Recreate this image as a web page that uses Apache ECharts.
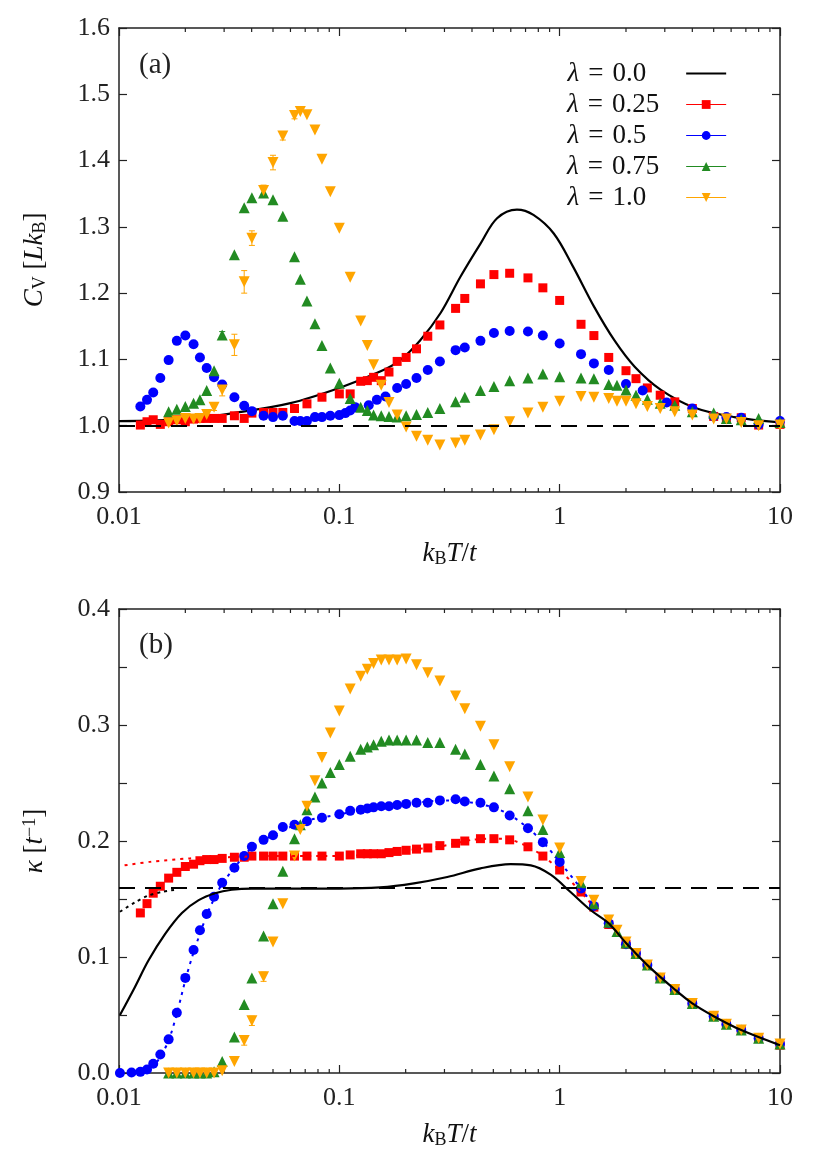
<!DOCTYPE html>
<html>
<head>
<meta charset="utf-8">
<script src="https://cdn.jsdelivr.net/npm/echarts@6/dist/echarts.min.js"></script>
<style>
  html, body { margin: 0; padding: 0; background: #fff; }
  #chart { width: 830px; height: 1163px; }
</style>
</head>
<body>
<div id="chart"></div>
<script>
// temperature grids (k_B T / t)
const tLow = [0.0125,0.0134,0.0143,0.0154,0.0168,0.0183,0.02,0.0218,0.0233,0.025,0.027,0.0294,0.0334,0.037,0.0401,0.0453,0.05,0.0554,0.0626,0.0713,0.0834,0.1,0.112,0.125,0.134,0.143,0.155,0.168,0.183,0.201,0.224,0.252,0.286,0.337];
const tHigh = [0.371,0.437,0.503,0.593,0.718,0.839,1.0,1.25,1.43,1.67,2.0,2.22,2.5,2.86,3.33,4.0,5.0,5.71,6.67,8.0,10.0];
const tMid = [0.0168,0.0183,0.02,0.0218,0.0233,0.025,0.027,0.0294,0.0334,0.037,0.0401,0.0453,0.05,0.0554,0.0626,0.0665,0.0713,0.0775,0.0834,0.091,0.1,0.112,0.125,0.134,0.143,0.155,0.168,0.183,0.201,0.224,0.252,0.286,0.337];
const tHigh2 = [0.371,0.437,0.503,0.593,0.718,0.839,1.0,1.25,1.43,1.67,1.82,2.0,2.22,2.5,2.86,3.33,4.0,5.0,5.71,6.67,8.0,10.0];
const tBlueTop = [0.0125,0.0134,0.0143,0.0154,0.0168,0.0183,0.02,0.0218,0.0233,0.025,0.027,0.0294,0.0334,0.037,0.0401,0.0453,0.05,0.0554,0.0626,0.0665,0.0713,0.0775,0.0834,0.091,0.1,0.1065,0.112,0.118,0.136,0.148,0.162,0.183,0.201,0.224,0.252,0.286,0.337,0.371,0.437,0.503,0.593,0.718,0.839,1.0,1.25,1.43,1.67,2.0,2.38,3.06,4.0,5.0,5.71,6.67,8.0,10.0];
const tBlueLowest = [0.0101,0.0114];

// (a) specific heat C_V
const cv0T = [0.01,0.02,0.033,0.06,0.1,0.154,0.189,0.233,0.288,0.355,0.438,0.52,0.64,0.76,0.94,1.15,1.43,1.77,2.19,2.88,4.1,6.2,10];
const cv0 = [1.007,1.010,1.019,1.034,1.057,1.082,1.099,1.129,1.170,1.225,1.275,1.313,1.326,1.318,1.290,1.240,1.180,1.129,1.089,1.054,1.027,1.013,1.005];
const cvRed = [1.001,1.006,1.009,1.002,1.006,1.009,1.006,1.010,1.011,1.011,1.011,1.011,1.015,1.011,1.019,1.020,1.020,1.020,1.026,1.033,1.043,1.048,1.048,1.067,1.068,1.073,1.068,1.081,1.097,1.103,1.116,1.135,1.152,1.177,
  1.192,1.214,1.228,1.230,1.223,1.208,1.189,1.153,1.136,1.103,1.083,1.071,1.057,1.046,1.036,1.026,1.014,1.011,1.012,1.001,1.002];
const cvBlue = [1.029,1.039,1.050,1.072,1.099,1.128,1.136,1.123,1.103,1.087,1.073,1.062,1.043,1.030,1.022,1.015,1.013,1.015,1.007,1.007,1.007,1.013,1.013,1.015,1.016,1.019,1.023,1.028,1.031,1.039,1.044,1.057,1.063,1.072,1.084,1.097,1.114,
  1.118,1.128,1.140,1.143,1.142,1.136,1.124,1.108,1.094,1.084,1.063,1.053,1.035,1.026,1.014,1.013,1.012,1.002,1.007];
const cvGreen = [1.021,1.025,1.029,1.034,1.039,1.053,1.083,1.137,1.258,1.329,1.344,1.351,1.341,1.316,1.255,1.221,1.188,1.154,1.121,1.087,1.064,1.041,1.028,1.023,1.016,1.015,1.014,1.013,1.015,1.017,1.020,1.026,1.036,
  1.043,1.053,1.059,1.068,1.072,1.078,1.074,1.072,1.071,1.062,1.061,1.054,1.046,1.040,1.034,1.031,1.021,1.019,1.011,1.009,1.011,1.005];
const cvOrange = [1.004,1.007,1.011,1.010,1.011,1.017,1.028,1.054,1.122,1.217,1.283,1.355,1.397,1.437,1.468,1.474,1.469,1.446,1.402,1.353,1.298,1.224,1.158,1.121,1.092,1.061,1.035,1.016,0.998,0.984,0.978,0.971,0.974,
  0.978,0.986,0.994,1.006,1.019,1.028,1.037,1.044,1.043,1.041,1.037,1.037,1.033,1.029,1.026,1.021,1.016,1.010,1.010,1.005,1.000,1.001];
const errOrangeTopT = [0.027,0.0294,0.0334,0.037,0.0401,0.0453,0.05,0.0554,0.0626];
const errOrangeTopD = [0.005,0.009,0.016,0.017,0.011,0.008,0.011,0.006,0.005];
const errGreenTopT = [0.0294];
const errGreenTopD = [0.005];

// (b) thermal conductivity kappa
const k0T = [0.0101,0.0118,0.0136,0.0162,0.0193,0.023,0.0273,0.0325,0.04,0.1,0.153,0.218,0.309,0.4375,0.599,0.74,0.91,1.12,1.38,1.67,2.0,2.5,3.33,4.0,5.0,6.67,10];
const k0 = [0.050,0.074,0.097,0.120,0.138,0.149,0.155,0.158,0.159,0.159,0.160,0.1635,0.169,0.1764,0.180,0.179,0.171,0.156,0.1405,0.129,0.112,0.093,0.072,0.060,0.049,0.037,0.024];
const k0DotT = [0.0101,0.0118,0.0136,0.0156,0.018];
const k0Dot = [0.139,0.147,0.153,0.156,0.158];
const kRed = [0.138,0.146,0.155,0.161,0.168,0.173,0.178,0.180,0.183,0.184,0.184,0.185,0.186,0.186,0.187,0.187,0.187,0.187,0.187,0.187,0.187,0.187,0.188,0.189,0.189,0.189,0.189,0.190,0.191,0.192,0.193,0.194,0.196,0.198,
  0.200,0.202,0.202,0.201,0.195,0.187,0.175,0.156,0.143,0.128,0.111,0.103,0.093,0.082,0.072,0.060,0.049,0.042,0.037,0.030,0.024];
const kBlue = [0.000,0.0005,
  0.001,0.003,0.008,0.016,0.029,0.052,0.082,0.106,0.123,0.137,0.152,0.164,0.177,0.187,0.195,0.201,0.205,0.212,0.214,0.217,0.220,0.223,0.226,0.227,0.228,0.229,0.230,0.230,0.231,0.232,0.233,0.233,0.235,0.236,
  0.234,0.233,0.229,0.222,0.211,0.199,0.182,0.159,0.144,0.129,0.111,0.103,0.093,0.082,0.072,0.060,0.049,0.042,0.037,0.030,0.025];
const kGreen = [0,0,0,0,0,0,0.001,0.010,0.031,0.059,0.082,0.118,0.146,0.174,0.202,0.214,0.227,0.238,0.250,0.259,0.266,0.273,0.279,0.281,0.283,0.286,0.287,0.287,0.287,0.287,0.285,0.285,0.279,
  0.275,0.266,0.256,0.245,0.226,0.210,0.190,0.164,0.146,0.130,0.122,0.112,0.103,0.093,0.082,0.072,0.060,0.049,0.042,0.037,0.030,0.025];
const kOrange = [0,0,0,0,0,0,0,0.002,0.010,0.028,0.045,0.083,0.113,0.146,0.187,0.210,0.230,0.252,0.272,0.293,0.312,0.331,0.342,0.348,0.353,0.356,0.356,0.356,0.357,0.352,0.345,0.338,0.325,
  0.314,0.299,0.283,0.264,0.238,0.218,0.194,0.165,0.149,0.132,0.123,0.113,0.103,0.093,0.082,0.072,0.060,0.049,0.042,0.037,0.030,0.025];
const errOrangeBotT = [0.037,0.0401,0.0453];
const errOrangeBotD = [0.004,0.004,0.004];
const fitRedT = [0.0106,0.0138,0.021,0.03,0.05,0.1,0.2,0.3,0.4,0.5,0.6,0.72,0.84,1.0,1.25,1.43];
const fitRed = [0.179,0.182,0.185,0.186,0.187,0.187,0.192,0.196,0.201,0.202,0.201,0.195,0.187,0.175,0.156,0.143];
const fitBlueT = [0.0101,0.0125,0.0143,0.0154,0.0168,0.0183,0.02,0.0218,0.025,0.027,0.0294,0.0334,0.04,0.05,0.07,0.1,0.15,0.2,0.3,0.37,0.5,0.6,0.72,0.84,1.0,1.25,1.43];
const fitBlue = [0,0.001,0.006,0.014,0.028,0.051,0.08,0.104,0.136,0.15,0.163,0.177,0.194,0.205,0.217,0.223,0.229,0.232,0.235,0.234,0.229,0.222,0.211,0.199,0.182,0.159,0.144];

const cvRef = 1.0;     // dashed line in (a)
const kappaRef = 0.159; // dashed line in (b)
const minorT = [0.02,0.03,0.04,0.05,0.06,0.07,0.08,0.09,0.2,0.3,0.4,0.5,0.6,0.7,0.8,0.9,2,3,4,5,6,7,8,9];

const names = ['λ = 0.0', 'λ = 0.25', 'λ = 0.5', 'λ = 0.75', 'λ = 1.0'];
const colors = ['#000000', '#ff0000', '#0000ff', '#228b22', '#ffa500'];
const FONT = "'Liberation Serif', 'DejaVu Serif', serif";

const pts = (xs, ys) => xs.map((x, i) => [x, ys[i]]);
const errPts = (ts, ds, xs, ys) => ts.map((t, i) => {
  const y = ys[xs.indexOf(t)];
  return [t, y - ds[i], y + ds[i]];
});

const chart = echarts.init(document.getElementById('chart'));

const frame = {color: '#222', width: 1.5};
const tick = {show: true, inside: true, length: 8, lineStyle: {color: '#222', width: 1.2}};
const rich = {
  i: {fontFamily: FONT, fontSize: 27, fontStyle: 'italic', color: '#111'},
  r: {fontFamily: FONT, fontSize: 27, color: '#111'},
  s: {fontFamily: FONT, fontSize: 18, color: '#111', verticalAlign: 'bottom', padding: [10, 0, 0, 0]},
  p: {fontFamily: FONT, fontSize: 18, color: '#111', verticalAlign: 'top', padding: [0, 0, 10, 0]}
};
const xName = '{i|k}{s|B}{i|T}{r|/}{i|t}';

function xAxesFor(g) {
  return [{
    type: 'log', logBase: 10, gridIndex: g, min: 0.01, max: 10, position: 'bottom',
    axisLine: {show: true, onZero: false, lineStyle: frame},
    axisTick: tick,
    axisLabel: {fontFamily: FONT, fontSize: 26, color: '#222', margin: 12},
    splitLine: {show: false},
    name: xName, nameLocation: 'middle', nameGap: 48,
    nameTextStyle: {rich: rich}
  }, {
    type: 'log', logBase: 10, gridIndex: g, min: 0.01, max: 10, position: 'top',
    axisLine: {show: true, onZero: false, lineStyle: frame},
    axisTick: tick, axisLabel: {show: false}, splitLine: {show: false}
  }];
}

function yAxesFor(g, min, max, name, fmt, minor) {
  const left = {
    type: 'value', gridIndex: g, min: min, max: max, interval: 0.1, position: 'left',
    axisLine: {show: true, onZero: false, lineStyle: frame},
    axisTick: tick,
    axisLabel: {fontFamily: FONT, fontSize: 26, color: '#222', margin: 9, formatter: fmt},
    splitLine: {show: false},
    name: name, nameLocation: 'middle', nameGap: 70, nameRotate: 90,
    nameTextStyle: {rich: rich}
  };
  const right = {
    type: 'value', gridIndex: g, min: min, max: max, interval: 0.1, position: 'right',
    axisLine: {show: true, onZero: false, lineStyle: frame},
    axisTick: tick, axisLabel: {show: false}, splitLine: {show: false}
  };
  if (minor) {
    left.minorTick = right.minorTick = {show: true, splitNumber: 2, length: 8, lineStyle: {color: '#222', width: 1.2}};
  }
  return [left, right];
}

function renderMinor(params, api) {
  const cs = params.coordSys;
  const px = api.coord([api.value(0), api.value(1)])[0];
  const st = {stroke: '#222', lineWidth: 1.2};
  return {type: 'group', children: [
    {type: 'line', shape: {x1: px, y1: cs.y + cs.height, x2: px, y2: cs.y + cs.height - 4}, style: st},
    {type: 'line', shape: {x1: px, y1: cs.y, x2: px, y2: cs.y + 4}, style: st}
  ]};
}

function renderErr(params, api) {
  const lo = api.coord([api.value(0), api.value(1)]);
  const hi = api.coord([api.value(0), api.value(2)]);
  const st = {stroke: api.visual('color'), lineWidth: 1};
  return {type: 'group', children: [
    {type: 'line', shape: {x1: lo[0], y1: lo[1], x2: hi[0], y2: hi[1]}, style: st},
    {type: 'line', shape: {x1: lo[0] - 3, y1: lo[1], x2: lo[0] + 3, y2: lo[1]}, style: st},
    {type: 'line', shape: {x1: hi[0] - 3, y1: hi[1], x2: hi[0] + 3, y2: hi[1]}, style: st}
  ]};
}

const symbols = [null, ['rect', 9, 0], ['circle', 10, 0], ['triangle', 11, 0], ['triangle', 11, 180]];

function markerSeries(idx, g, data, asLine, name) {
  return {
    name: name, type: asLine ? 'line' : 'scatter',
    xAxisIndex: 2 * g, yAxisIndex: 2 * g,
    data: data, symbol: symbols[idx][0], symbolSize: symbols[idx][1], symbolRotate: symbols[idx][2],
    showSymbol: true, showAllSymbol: true,
    itemStyle: {color: colors[idx], opacity: 1},
    lineStyle: {opacity: 0},
    clip: false, silent: true
  };
}

function dashed(y) {
  return {silent: true, symbol: 'none', label: {show: false},
    lineStyle: {color: '#000', width: 2, type: [16, 10]}, data: [{yAxis: y}]};
}

const legendText = {fontFamily: FONT, fontSize: 27, color: '#111', lineHeight: 24};

const option = {
  animation: false,
  backgroundColor: '#fff',
  title: [
    {text: '(a)', left: 134, top: 46, textStyle: {fontFamily: FONT, fontSize: 29, fontWeight: 'normal', color: '#222'}},
    {text: '(b)', left: 134, top: 626, textStyle: {fontFamily: FONT, fontSize: 29, fontWeight: 'normal', color: '#222'}}
  ],
  grid: [
    {left: 119, top: 28, width: 661, height: 464},
    {left: 119, top: 609, width: 661, height: 464}
  ],
  legend: {
    data: [
      {name: names[0], itemStyle: {opacity: 0}},
      {name: names[1], lineStyle: {color: colors[1], width: 1, opacity: 1}},
      {name: names[2], lineStyle: {color: colors[2], width: 1, opacity: 1}},
      {name: names[3], lineStyle: {color: colors[3], width: 1, opacity: 1}},
      {name: names[4], lineStyle: {color: colors[4], width: 1, opacity: 1}}
    ],
    orient: 'vertical', left: 562, top: 55, align: 'right',
    itemWidth: 40, itemHeight: 11, itemGap: 4, selectedMode: false,
    formatter: n => {
      const v = n.slice(4);
      return '{l|λ}{e|=}{' + (v.length > 3 ? 't4' : 't3') + '|' + v + '}';
    },
    textStyle: {
      rich: {
        l: Object.assign({fontStyle: 'italic'}, legendText),
        e: Object.assign({padding: [0, 9, 0, 9]}, legendText),
        t4: Object.assign({padding: [0, 22, 0, 0]}, legendText),
        t3: Object.assign({padding: [0, 35, 0, 0]}, legendText)
      }
    }
  },
  xAxis: [...xAxesFor(0), ...xAxesFor(1)],
  yAxis: [
    ...yAxesFor(0, 0.9, 1.6, '{i|C}{s|V}{r| [}{i|Lk}{s|B}{r|]}', v => v.toFixed(1), false),
    ...yAxesFor(1, 0, 0.4, '{i|κ}{r| [}{i|t}{p|−1}{r|]}', v => v.toFixed(1), true)
  ],
  series: [
    // panel (a)
    {type: 'custom', xAxisIndex: 0, yAxisIndex: 0, renderItem: renderMinor, silent: true,
      data: minorT.map(v => [v, 0.9]), encode: {x: 0, y: 1}},
    {name: names[0], type: 'line', xAxisIndex: 0, yAxisIndex: 0, data: pts(cv0T, cv0),
      smooth: 0.35, symbol: 'none', lineStyle: {color: '#000', width: 2.2}, itemStyle: {color: '#000'},
      silent: true, markLine: dashed(cvRef)},
    {type: 'custom', xAxisIndex: 0, yAxisIndex: 0, renderItem: renderErr, silent: true,
      itemStyle: {color: colors[3]}, data: errPts(errGreenTopT, errGreenTopD, tMid, cvGreen), encode: {x: 0, y: [1, 2]}},
    {type: 'custom', xAxisIndex: 0, yAxisIndex: 0, renderItem: renderErr, silent: true,
      itemStyle: {color: colors[4]}, data: errPts(errOrangeTopT, errOrangeTopD, tMid, cvOrange), encode: {x: 0, y: [1, 2]}},
    markerSeries(1, 0, pts(tLow.concat(tHigh), cvRed), true, names[1]),
    markerSeries(2, 0, pts(tBlueTop, cvBlue), true, names[2]),
    markerSeries(3, 0, pts(tMid.concat(tHigh2), cvGreen), true, names[3]),
    markerSeries(4, 0, pts(tMid.concat(tHigh2), cvOrange), true, names[4]),

    // panel (b)
    {type: 'custom', xAxisIndex: 2, yAxisIndex: 2, renderItem: renderMinor, silent: true,
      data: minorT.map(v => [v, 0]), encode: {x: 0, y: 1}},
    {name: 'kappa0', type: 'line', xAxisIndex: 2, yAxisIndex: 2, data: pts(k0T, k0),
      smooth: 0.35, symbol: 'none', lineStyle: {color: '#000', width: 2.2}, silent: true, markLine: dashed(kappaRef)},
    {name: 'kappa0 fit', type: 'line', xAxisIndex: 2, yAxisIndex: 2, data: pts(k0DotT, k0Dot),
      smooth: 0.3, symbol: 'none', lineStyle: {color: '#000', width: 2, type: [3, 4]}, silent: true},
    {name: 'kappa fit 0.25', type: 'line', xAxisIndex: 2, yAxisIndex: 2, data: pts(fitRedT, fitRed),
      smooth: 0.3, symbol: 'none', lineStyle: {color: colors[1], width: 2, type: [3, 5]}, silent: true},
    {name: 'kappa fit 0.5', type: 'line', xAxisIndex: 2, yAxisIndex: 2, data: pts(fitBlueT, fitBlue),
      smooth: 0.3, symbol: 'none', lineStyle: {color: colors[2], width: 2, type: [3, 5]}, silent: true},
    {type: 'custom', xAxisIndex: 2, yAxisIndex: 2, renderItem: renderErr, silent: true,
      itemStyle: {color: colors[4]}, data: errPts(errOrangeBotT, errOrangeBotD, tMid, kOrange), encode: {x: 0, y: [1, 2]}},
    markerSeries(1, 1, pts(tLow.concat(tHigh), kRed), false, 'kappa 0.25'),
    markerSeries(2, 1, pts(tBlueLowest.concat(tLow, tHigh), kBlue), false, 'kappa 0.5'),
    markerSeries(3, 1, pts(tMid.concat(tHigh2), kGreen), false, 'kappa 0.75'),
    markerSeries(4, 1, pts(tMid.concat(tHigh2), kOrange), false, 'kappa 1.0')
  ]
};

chart.setOption(option);
</script>
</body>
</html>
